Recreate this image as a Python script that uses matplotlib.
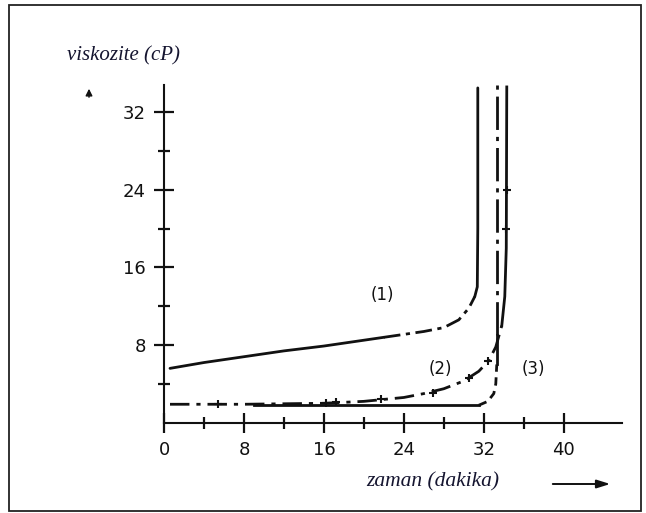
import matplotlib
matplotlib.use("Agg")
import matplotlib.pyplot as plt
import matplotlib.patches as patches
from matplotlib import font_manager
from matplotlib.ticker import FixedLocator

# curve (1)
c1_x = [0.6, 4, 8, 12, 16, 20, 22, 24, 26, 28, 29.5, 30.5, 31.1, 31.35, 31.4, 31.4]
c1_y = [5.6, 6.2, 6.8, 7.4, 7.9, 8.5, 8.8, 9.1, 9.4, 9.8, 10.6, 11.8, 13.0, 14.0, 20, 34.5]

# curve (2)
c2_x = [0.6, 4, 8, 12, 16, 18, 20, 22, 24, 26, 28, 30, 31.5, 32.5, 33.2, 33.8, 34.1, 34.25, 34.3]
c2_y = [1.9, 1.9, 1.9, 1.95, 2.0, 2.1, 2.2, 2.4, 2.6, 3.0, 3.5, 4.3, 5.3, 6.4, 7.8, 10, 13, 18, 34.6]
c2_mark_x = [5.4, 16.2, 17.2, 21.7, 26.9, 30.5, 32.4, 34.25, 34.3]
c2_mark_y = [1.9, 2.05, 2.1, 2.4, 3.1, 4.6, 6.4, 20, 24]

# curve (3)
c3_x = [9, 16, 24, 31.5, 32.4, 33.0, 33.2, 33.3, 33.3, 33.3]
c3_y = [1.8, 1.8, 1.8, 1.8, 2.2, 3.0, 4.0, 6.0, 9.0, 35.2]

curve_labels = ["(1)", "(2)", "(3)"]
label_x = [21.9, 27.7, 37.0]
label_y = [13.2, 5.5, 5.5]

x_major = [0, 8, 16, 24, 32, 40]
x_minor = [4, 12, 20, 28, 36]
y_major = [8, 16, 24, 32]
y_minor = [4, 12, 20, 28]

# narrow font for the numbers if there is one
num_font = "DejaVu Sans"
for cand in ["Liberation Sans Narrow", "DejaVu Sans Condensed"]:
    try:
        font_manager.findfont(cand, fallback_to_default=False)
        num_font = cand
        break
    except Exception:
        pass

fig = plt.figure(figsize=(6.46, 5.13), dpi=100)
ax = fig.add_axes([164 / 646, (513 - 422.7) / 513, (621.7 - 164) / 646, (422.7 - 85) / 513])
ax.set_xlim(0, 45.8)
ax.set_ylim(0, 34.8)

ink = "#111111"
lw = 2.0

# curve 1: solid, then dash-dot round the bend, then solid up
ax.plot(c1_x[:7], c1_y[:7], color=ink, lw=lw, solid_capstyle="round")
ax.plot(c1_x[6:13], c1_y[6:13], color=ink, lw=lw, linestyle=(0, (6, 2, 1.5, 2)))
ax.plot(c1_x[12:], c1_y[12:], color=ink, lw=lw, solid_capstyle="round")

# curve 2: dash-dot with + marks, solid up the right side
ax.plot(c2_x[:16], c2_y[:16], color=ink, lw=lw, linestyle=(0, (7, 2.5, 1.5, 2.5)))
ax.plot(c2_x[15:], c2_y[15:], color=ink, lw=lw)
ax.plot(c2_mark_x, c2_mark_y, linestyle="none", marker="+", ms=6, mew=1.5, color=ink)

# curve 3: solid bottom, dash-dot upright
ax.plot(c3_x[:4], c3_y[:4], color=ink, lw=lw)
ax.plot(c3_x[3:8], c3_y[3:8], color=ink, lw=lw, linestyle=(0, (3, 2)))
ax.plot(c3_x[7:9], c3_y[7:9], color=ink, lw=lw)
ax.plot(c3_x[8:], c3_y[8:], color=ink, lw=lw, linestyle=(0, (12, 2.5, 1.5, 2.5)))

for t, lx, ly in zip(curve_labels, label_x, label_y):
    ax.text(lx, ly, t, fontsize=12, family=num_font, color=ink, ha="center", va="center")

for s in ["top", "right"]:
    ax.spines[s].set_visible(False)
for s in ["left", "bottom"]:
    ax.spines[s].set_linewidth(1.5)
    ax.spines[s].set_color(ink)

ax.xaxis.set_major_locator(FixedLocator(x_major))
ax.xaxis.set_minor_locator(FixedLocator(x_minor))
ax.yaxis.set_major_locator(FixedLocator(y_major))
ax.yaxis.set_minor_locator(FixedLocator(y_minor))
ax.tick_params(which="major", direction="inout", length=14, width=1.6, colors=ink,
               labelsize=13, pad=6)
ax.tick_params(which="minor", direction="inout", length=9, width=1.6, colors=ink)
for lab in ax.get_xticklabels() + ax.get_yticklabels():
    lab.set_family(num_font)
    lab.set_weight("medium")

# axis titles
fig.text(67 / 646, 1 - 56 / 513, "viskozite (cP)", family="Liberation Serif", style="italic",
         fontsize=15, color="#151530", ha="left", va="center")
fig.text(366 / 646, 1 - 482 / 513, "zaman (dakika)", family="Liberation Serif", style="italic",
         fontsize=15.5, color="#151530", ha="left", va="center")

# little arrows
fig.add_artist(patches.FancyArrowPatch((550 / 646, 1 - 484 / 513), (613 / 646, 1 - 484 / 513),
                                       transform=fig.transFigure, arrowstyle="-|>,head_length=8,head_width=2.5",
                                       lw=1.4, color=ink))
fig.add_artist(patches.FancyArrowPatch((89 / 646, 1 - 100 / 513), (89 / 646, 1 - 86 / 513),
                                       transform=fig.transFigure, arrowstyle="-|>,head_length=4,head_width=2",
                                       lw=1.0, color=ink))

# outer frame
fig.add_artist(patches.Rectangle((9 / 646, 2.5 / 513), 632 / 646, 506 / 513, transform=fig.transFigure,
                                 fill=False, lw=1.3, edgecolor="#222222"))

fig.savefig("out.png", dpi=100)
